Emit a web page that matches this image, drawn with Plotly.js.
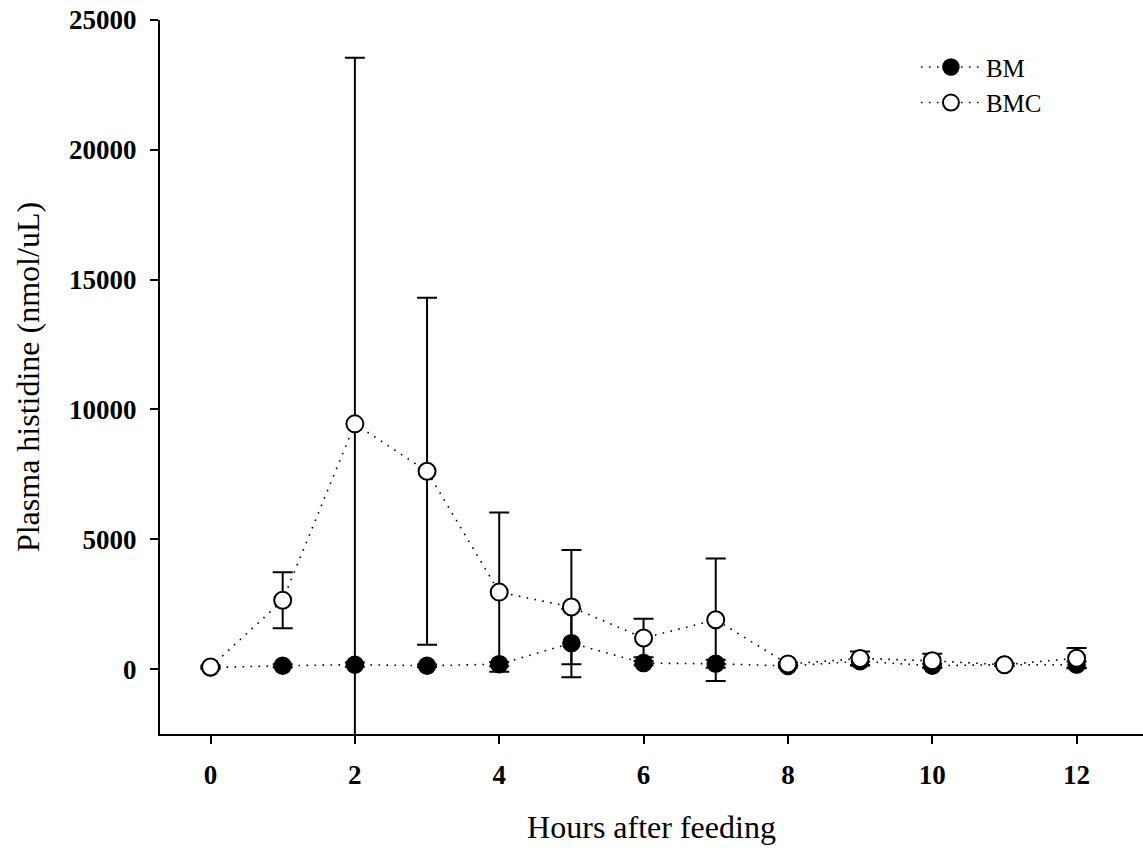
<!DOCTYPE html>
<html>
<head>
<meta charset="utf-8">
<script src="https://cdn.plot.ly/plotly-3.0.1.min.js"></script>
<style>html,body{margin:0;padding:0;background:#fff;}</style>
</head>
<body>
<div id="chart" style="width:1143px;height:859px;"></div>
<script>
const hours = [0, 1, 2, 3, 4, 5, 6, 7, 8, 9, 10, 11, 12];
const bmMean = [60, 130, 170, 130, 190, 1000, 230, 205, 120, 300, 130, 170, 170];
const bmErr = [40, 60, 80, 50, 80, 1310, 80, 150, 60, 150, 80, 50, 120];
const bmcMean = [80, 2650, 9445, 7620, 2965, 2390, 1195, 1900, 195, 410, 320, 165, 420];
const bmcErr = [60, 1080, 14100, 6680, 3070, 2200, 740, 2360, 60, 270, 270, 50, 390];
const yTicks = [0, 5000, 10000, 15000, 20000, 25000];
const xTicks = [0, 2, 4, 6, 8, 10, 12];

const serif = "'Liberation Serif', 'Times New Roman', serif";
const dotted = "1.6px,6.4px";

const traces = [
  {
    x: hours, y: bmMean, name: 'BM', type: 'scatter', mode: 'lines+markers',
    line: {color: 'black', width: 1.6, dash: dotted},
    marker: {symbol: 'circle', size: 17, color: 'black', line: {color: 'black', width: 1.5}},
    error_y: {type: 'data', array: bmErr, visible: true, color: 'black', thickness: 2, width: 10}
  },
  {
    x: hours, y: bmcMean, name: 'BMC', type: 'scatter', mode: 'lines+markers',
    line: {color: 'black', width: 1.6, dash: dotted},
    marker: {symbol: 'circle', size: 17, color: 'white', line: {color: 'black', width: 2}},
    error_y: {type: 'data', array: bmcErr, visible: true, color: 'black', thickness: 2, width: 10}
  }
];

const layout = {
  width: 1143, height: 859,
  margin: {l: 160, r: 0, t: 20, b: 125},
  paper_bgcolor: 'white', plot_bgcolor: 'white',
  font: {family: serif, color: 'black'},
  showlegend: true,
  legend: {
    x: 0.769, y: 0.966, xanchor: 'left', yanchor: 'top', itemwidth: 60,
    bgcolor: 'rgba(0,0,0,0)', font: {family: serif, size: 25, color: 'black'}
  },
  xaxis: {
    range: [-0.7, 12.92], tickvals: xTicks, ticktext: xTicks.map(String),
    showline: true, linecolor: 'black', linewidth: 2,
    ticks: 'outside', ticklen: 8, tickwidth: 2, tickcolor: 'black',
    ticklabelstandoff: 8,
    showgrid: false, zeroline: false, automargin: false,
    tickfont: {family: serif, size: 27, weight: 'bold', color: 'black'},
    title: {text: 'Hours after feeding', font: {family: serif, size: 32, color: 'black'}, standoff: 26}
  },
  yaxis: {
    range: [-2500, 25000], tickvals: yTicks, ticktext: yTicks.map(String),
    showline: true, linecolor: 'black', linewidth: 2,
    ticks: 'outside', ticklen: 8, tickwidth: 2, tickcolor: 'black',
    ticklabelstandoff: 8,
    showgrid: false, zeroline: false, automargin: false,
    tickfont: {family: serif, size: 27, weight: 'bold', color: 'black'},
    title: {text: 'Plasma histidine (nmol/uL)', font: {family: serif, size: 32, color: 'black'}, standoff: 20}
  }
};

Plotly.newPlot('chart', traces, layout, {displayModeBar: false, staticPlot: true});
</script>
</body>
</html>
